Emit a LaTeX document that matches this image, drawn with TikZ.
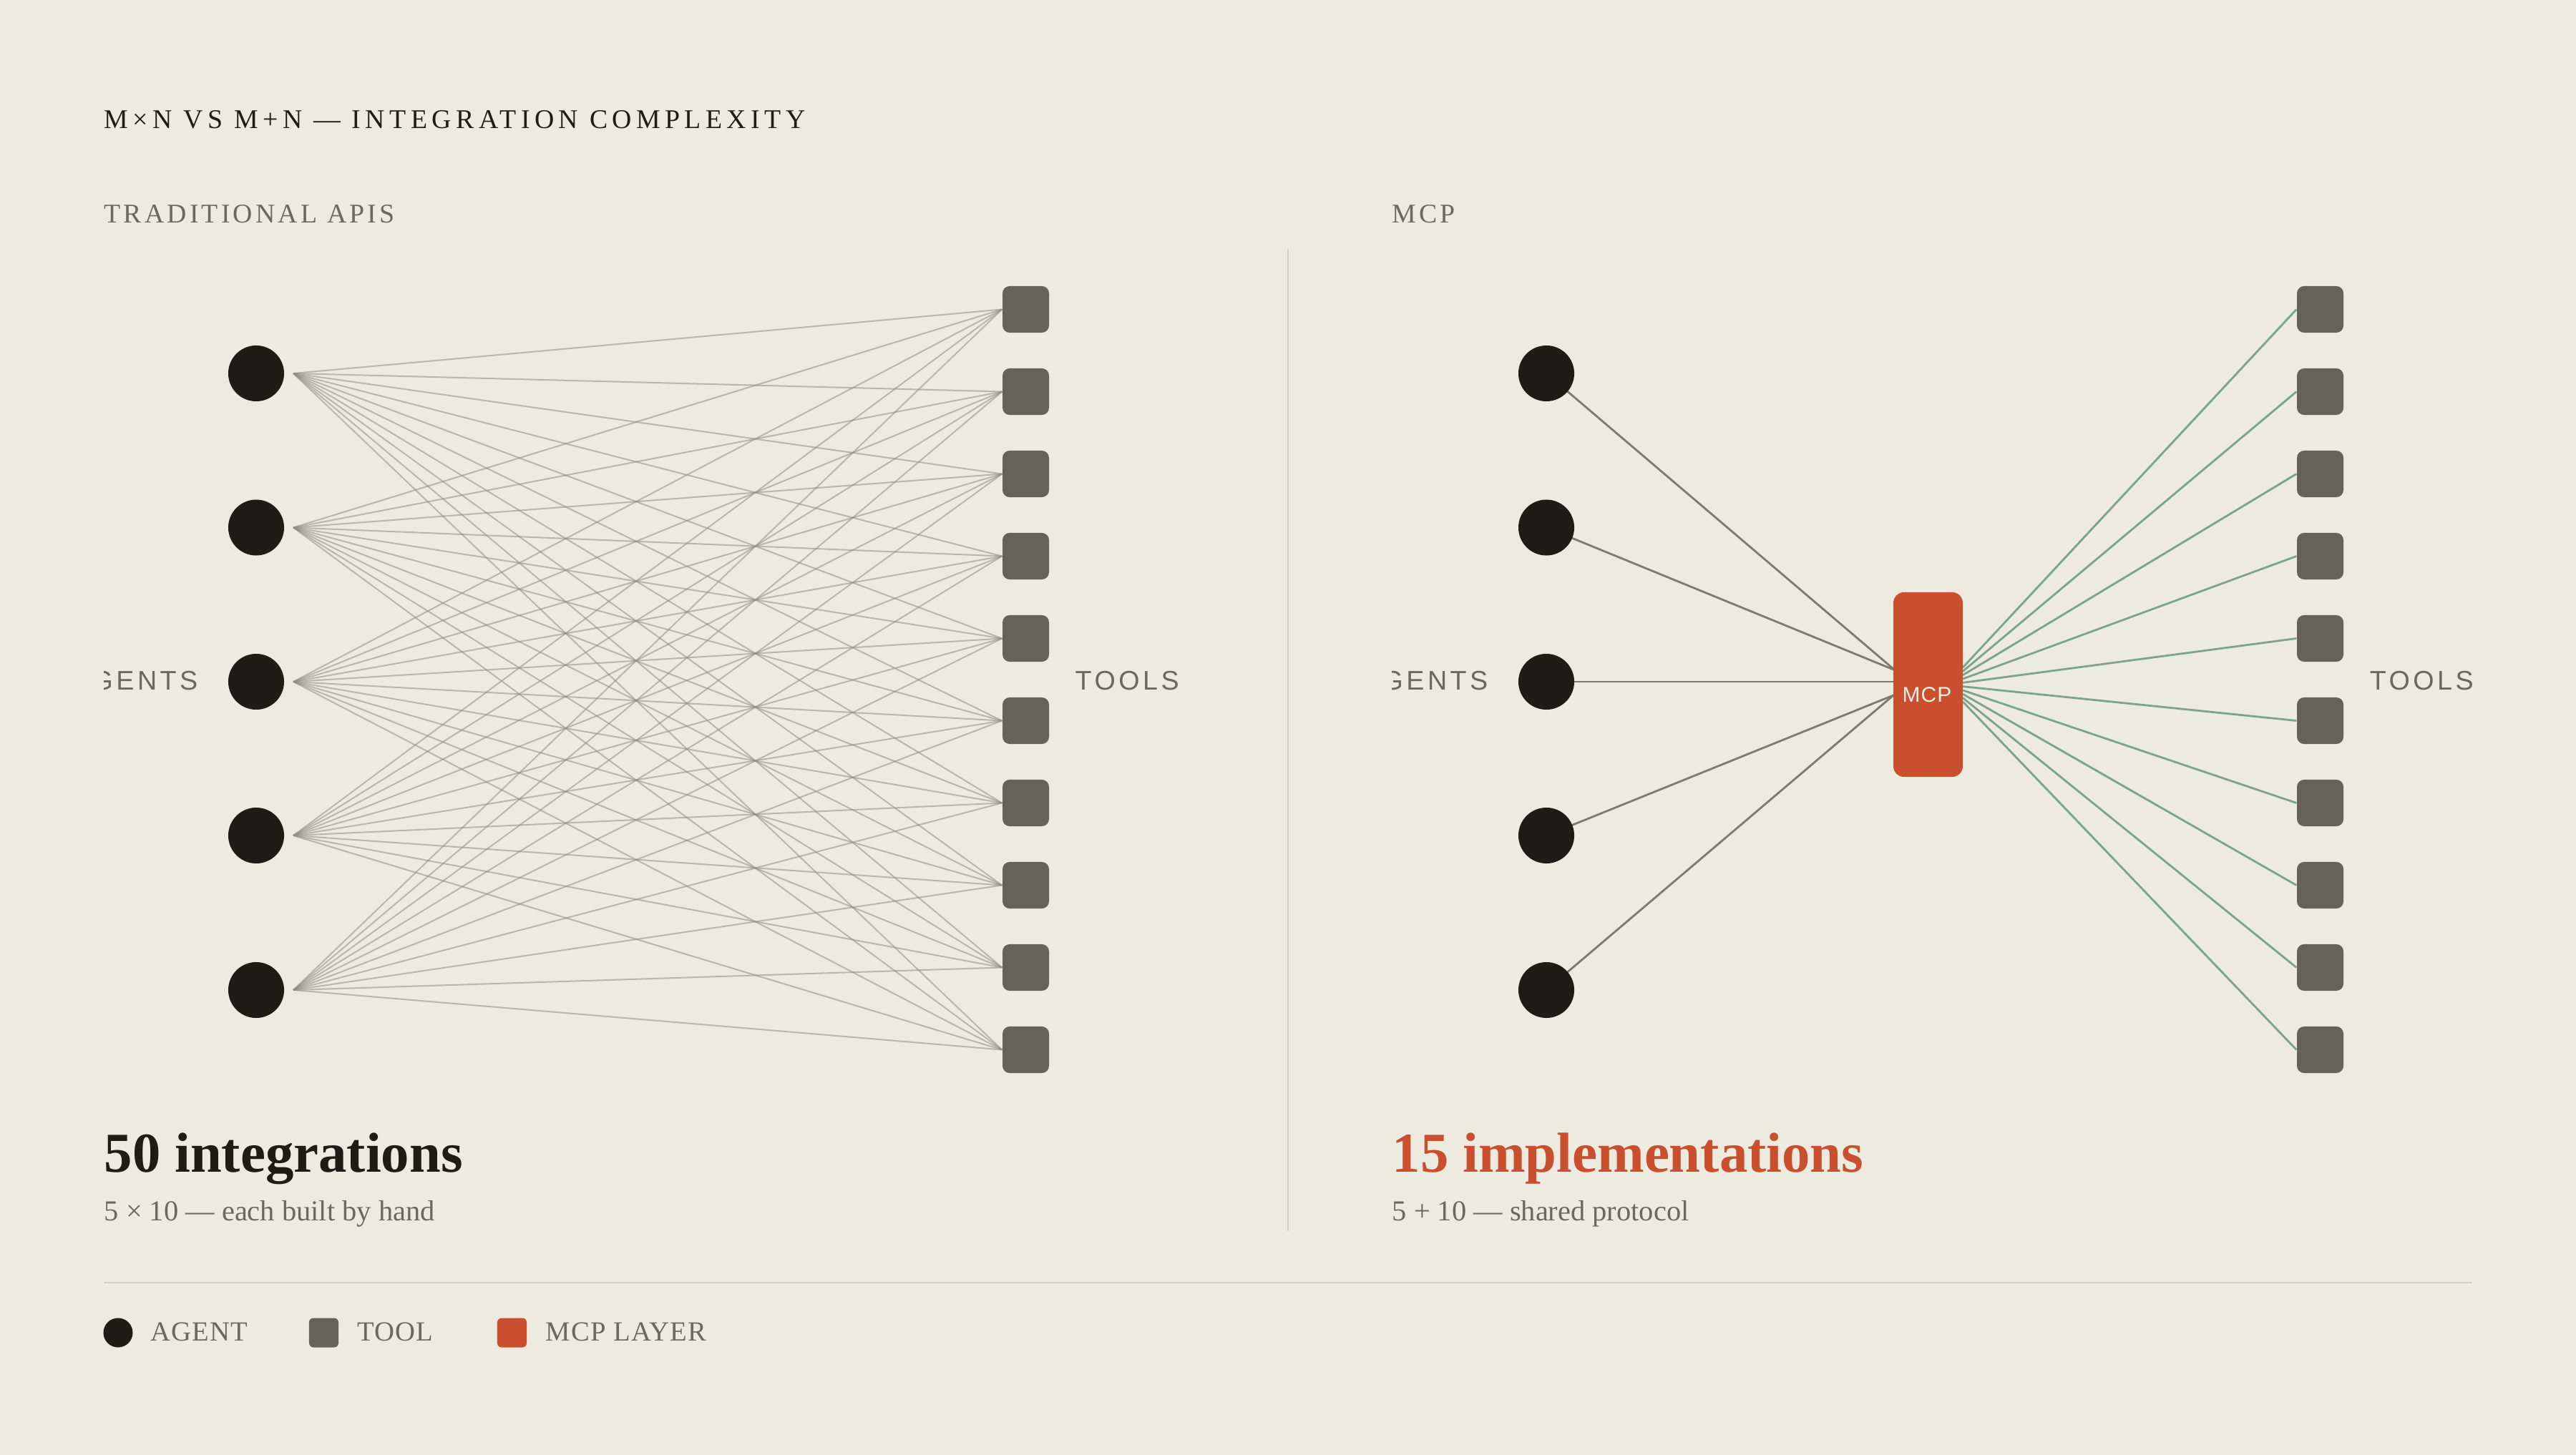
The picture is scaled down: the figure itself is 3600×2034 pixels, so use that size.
\documentclass[tikz,border=0pt]{standalone}
\usepackage{fontspec}
\setmainfont{Liberation Serif}
\newfontfamily\titlef[LetterSpace=17]{Liberation Serif}
\newfontfamily\capsf[LetterSpace=11]{Liberation Serif}
\newfontfamily\legf[LetterSpace=3]{Liberation Serif}
\newfontfamily\sansf[LetterSpace=12]{Liberation Sans}
\newfontfamily\mcpf[LetterSpace=4]{Liberation Sans}
\definecolor{bgc}{HTML}{EDEADF}
\definecolor{ink}{HTML}{1F1C16}
\definecolor{toolc}{HTML}{65625A}
\definecolor{textg}{HTML}{6B6860}
\definecolor{mcpc}{HTML}{C94F2E}
\definecolor{greenc}{HTML}{7DA38A}
\definecolor{aglc}{HTML}{7D7A72}
\definecolor{meshc}{HTML}{8F8C82}
\definecolor{rulec}{HTML}{D2CFC4}
\definecolor{mcptext}{HTML}{F0EDE3}
\pgfdeclarelayer{back}
\pgfdeclarelayer{lines}
\pgfsetlayers{back,lines,main}
\begin{document}
\begin{tikzpicture}[x=0.01cm,y=-0.01cm,
  agent/.style={circle,fill=ink,draw=none,minimum size=0.78cm,inner sep=0},
  toolbox/.style={rectangle,fill=toolc,draw=none,minimum size=0.65cm,inner sep=0,rounded corners=0.1cm},
  mcpbox/.style={rectangle,fill=mcpc,draw=none,minimum width=0.97cm,minimum height=2.58cm,inner sep=0,rounded corners=0.15cm},
  mesh/.style={draw=meshc,line width=0.02cm,opacity=0.55},
  agline/.style={draw=aglc,line width=0.028cm},
  greenline/.style={draw=greenc,line width=0.028cm},
  txt/.style={inner sep=0,anchor=base west},
  sectionlbl/.style={txt,font=\capsf\fontsize{10.75}{12}\selectfont,text=textg},
  sidelbl/.style={inner sep=0,font=\sansf\fontsize{10.7}{12}\selectfont,text=textg},
  headline/.style={txt,font=\bfseries\fontsize{22.4}{26}\selectfont},
  sublbl/.style={txt,font=\fontsize{11.5}{13}\selectfont,text=textg},
  leglbl/.style={txt,font=\legf\fontsize{11}{13}\selectfont,text=textg},
  divider/.style={draw=rulec,line width=0.026cm}
]
\begin{pgfonlayer}{back}
\fill[bgc] (0,0) rectangle (3600,2034);
\end{pgfonlayer}
\useasboundingbox (0,0) rectangle (3600,2034);

% title and section labels
\node[txt,font=\titlef\fontsize{10.75}{12}\selectfont,text=ink] (title) at (145,180) {M×N VS M+N — INTEGRATION COMPLEXITY};
\node[sectionlbl] (tradlbl) at (145,312) {TRADITIONAL APIS};
\node[sectionlbl] (mcplbl) at (1945,312) {MCP};

% divider
\coordinate (divtop) at (1800,348);
\coordinate (divbot) at (1800,1721);
\draw[divider] (divtop) -- (divbot);

% agents
\foreach \i/\y in {1/522,2/737.5,3/953,4/1168,5/1384}{
  \node[agent] (a\i) at (358,\y) {};
  \coordinate (ao\i) at (410,\y);
  \node[agent] (b\i) at (2161,\y) {};
}
% tools
\foreach \j in {1,...,10}{
  \pgfmathsetmacro\ty{432.5+115*(\j-1)}
  \node[toolbox] (lt\j) at (1433.5,\ty) {};
  \node[toolbox] (rt\j) at (3242.5,\ty) {};
  \pgfmathsetmacro\sy{957+(\ty-950)*0.046}
  \coordinate (mo\j) at (2743,\sy);
}
% MCP box
\node[mcpbox] (mcp) at (2694.5,957) {};
\node[inner sep=0,font=\mcpf\fontsize{8.5}{10}\selectfont,text=mcptext] (mcptxt) at (2693,971) {MCP};
\coordinate (mi1) at (2646,935);
\coordinate (mi2) at (2646,936);
\coordinate (mi3) at (2646,953);
\coordinate (mi4) at (2646,972);
\coordinate (mi5) at (2646,972);

% connectors
\begin{pgfonlayer}{lines}
\foreach \i in {1,...,5}{
  \foreach \j in {1,...,10}{
    \draw[mesh] (ao\i) -- (lt\j.west);
  }
  \draw[agline] (b\i.center) -- (mi\i);
}
\foreach \j in {1,...,10}{
  \draw[greenline] (mo\j) -- (rt\j.west);
}
\end{pgfonlayer}

% side labels
\begin{scope}
\clip (145,0) rectangle (1790,2034);
\node[sidelbl,anchor=base east] (agl) at (277,964) {AGENTS};
\end{scope}
\begin{scope}
\clip (1945,0) rectangle (3600,2034);
\node[sidelbl,anchor=base east] (agr) at (2080,964) {AGENTS};
\end{scope}
\node[sidelbl,anchor=base west] (tll) at (1502,964) {TOOLS};
\node[sidelbl,anchor=base west] (tlr) at (3311,964) {TOOLS};

% headlines
\node[headline,text=ink] (h1) at (145,1638) {50 integrations};
\node[sublbl] (s1) at (145,1706) {5 × 10 — each built by hand};
\node[headline,text=mcpc] (h2) at (1945,1638) {15 implementations};
\node[sublbl] (s2) at (1945,1706) {5 + 10 — shared protocol};

% rule
\coordinate (rl) at (145,1793);
\coordinate (rr) at (3455,1793);
\draw[divider] (rl) -- (rr);

% legend
\node[agent,minimum size=0.41cm] (lga) at (165,1863) {};
\node[leglbl] (lgat) at (210,1874) {AGENT};
\node[toolbox,minimum size=0.41cm,rounded corners=0.06cm] (lgt) at (452.5,1863) {};
\node[leglbl] (lgtt) at (499,1874) {TOOL};
\node[rectangle,fill=mcpc,minimum size=0.41cm,inner sep=0,rounded corners=0.06cm] (lgm) at (715.5,1863) {};
\node[leglbl] (lgmt) at (762,1874) {MCP LAYER};
\end{tikzpicture}
\end{document}
